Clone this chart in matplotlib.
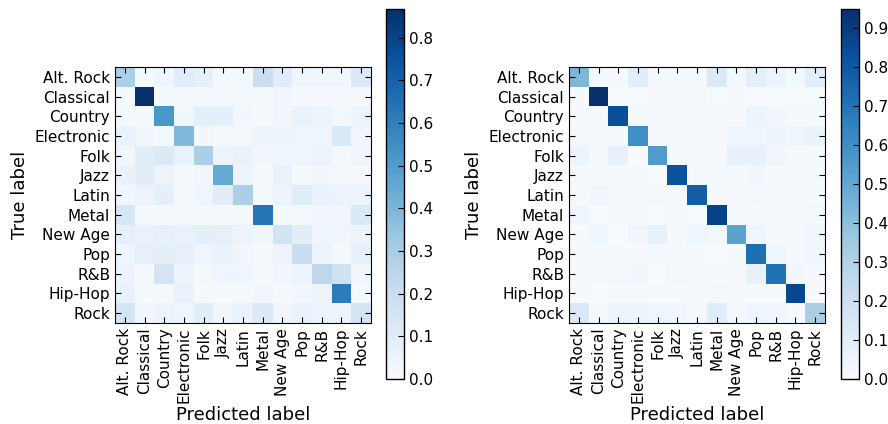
import matplotlib
matplotlib.use("Agg")
import matplotlib.pyplot as plt
import numpy as np

genres = ["Alt. Rock", "Classical", "Country", "Electronic", "Folk", "Jazz",
          "Latin", "Metal", "New Age", "Pop", "R&B", "Hip-Hop", "Rock"]

# left confusion matrix (rows: true label, cols: predicted label)
cm_left = [
    [0.29, 0.02, 0.04, 0.10, 0.07, 0.02, 0.02, 0.19, 0.10, 0.04, 0.03, 0.03, 0.11],
    [0.01, 0.867, 0.01, 0.01, 0.015, 0.015, 0.015, 0.015, 0.03, 0.01, 0.01, 0.01, 0.01],
    [0.02, 0.01, 0.52, 0.03, 0.08, 0.08, 0.03, 0.01, 0.03, 0.06, 0.05, 0.02, 0.05],
    [0.06, 0.03, 0.02, 0.39, 0.03, 0.02, 0.02, 0.05, 0.05, 0.04, 0.04, 0.12, 0.03],
    [0.03, 0.09, 0.11, 0.06, 0.29, 0.05, 0.06, 0.03, 0.04, 0.04, 0.05, 0.02, 0.03],
    [0.06, 0.09, 0.05, 0.02, 0.03, 0.45, 0.05, 0.02, 0.06, 0.02, 0.03, 0.02, 0.01],
    [0.03, 0.05, 0.08, 0.02, 0.04, 0.09, 0.29, 0.02, 0.05, 0.10, 0.06, 0.05, 0.05],
    [0.14, 0.02, 0.02, 0.02, 0.02, 0.015, 0.015, 0.63, 0.02, 0.02, 0.03, 0.03, 0.12],
    [0.07, 0.06, 0.07, 0.06, 0.08, 0.07, 0.05, 0.03, 0.16, 0.09, 0.04, 0.03, 0.05],
    [0.04, 0.07, 0.08, 0.07, 0.04, 0.06, 0.03, 0.02, 0.05, 0.19, 0.05, 0.02, 0.07],
    [0.05, 0.01, 0.15, 0.05, 0.02, 0.04, 0.04, 0.02, 0.03, 0.05, 0.24, 0.17, 0.03],
    [0.06, 0.01, 0.02, 0.06, 0.01, 0.01, 0.02, 0.03, 0.02, 0.03, 0.05, 0.61, 0.02],
    [0.15, 0.03, 0.05, 0.04, 0.09, 0.03, 0.06, 0.11, 0.03, 0.06, 0.05, 0.05, 0.15],
]

# right confusion matrix
cm_right = [
    [0.43, 0.02, 0.01, 0.10, 0.01, 0.02, 0.01, 0.12, 0.02, 0.09, 0.05, 0.02, 0.10],
    [0.005, 0.948, 0.005, 0.005, 0.01, 0.01, 0.015, 0.005, 0.01, 0.005, 0.005, 0.005, 0.005],
    [0.01, 0.01, 0.83, 0.01, 0.01, 0.01, 0.01, 0.01, 0.01, 0.05, 0.03, 0.01, 0.01],
    [0.02, 0.01, 0.01, 0.60, 0.01, 0.01, 0.01, 0.01, 0.04, 0.04, 0.05, 0.04, 0.06],
    [0.05, 0.01, 0.07, 0.005, 0.55, 0.01, 0.02, 0.01, 0.07, 0.07, 0.03, 0.01, 0.01],
    [0.01, 0.01, 0.01, 0.01, 0.005, 0.82, 0.02, 0.01, 0.01, 0.03, 0.01, 0.01, 0.01],
    [0.02, 0.03, 0.01, 0.01, 0.01, 0.01, 0.78, 0.01, 0.01, 0.02, 0.01, 0.01, 0.01],
    [0.04, 0.005, 0.01, 0.01, 0.005, 0.01, 0.005, 0.88, 0.01, 0.01, 0.01, 0.01, 0.02],
    [0.01, 0.04, 0.005, 0.03, 0.07, 0.01, 0.04, 0.02, 0.52, 0.04, 0.01, 0.01, 0.03],
    [0.01, 0.01, 0.01, 0.01, 0.02, 0.01, 0.01, 0.005, 0.01, 0.72, 0.04, 0.01, 0.03],
    [0.01, 0.01, 0.02, 0.03, 0.005, 0.02, 0.01, 0.01, 0.01, 0.07, 0.71, 0.03, 0.01],
    [0.01, 0.005, 0.01, 0.01, 0.01, 0.01, 0.01, 0.02, 0.01, 0.01, 0.01, 0.86, 0.01],
    [0.14, 0.02, 0.05, 0.05, 0.04, 0.03, 0.02, 0.11, 0.02, 0.04, 0.03, 0.01, 0.32],
]

cbar_ticks_left = [0.0, 0.1, 0.2, 0.3, 0.4, 0.5, 0.6, 0.7, 0.8]
cbar_ticks_right = [0.0, 0.1, 0.2, 0.3, 0.4, 0.5, 0.6, 0.7, 0.8, 0.9]

plt.rcParams["xtick.direction"] = "in"
plt.rcParams["ytick.direction"] = "in"
plt.rcParams["xtick.top"] = True
plt.rcParams["ytick.right"] = True
plt.rcParams["xtick.major.size"] = 4
plt.rcParams["ytick.major.size"] = 4

W, H = 888, 424
fig = plt.figure(figsize=(W / 100, H / 100), dpi=100)


def px(x, y_top, w, h):
    # pixel box (left, top, width, height) -> figure fraction
    return [x / W, (H - y_top - h) / H, w / W, h / H]


def plot_cm(cm, ax_box, cax_box, ticks):
    cm = np.array(cm)
    ax = fig.add_axes(px(*ax_box))
    im = ax.imshow(cm, interpolation="nearest", cmap="Blues",
                   vmin=0, vmax=cm.max(), aspect="auto")
    pos = np.arange(len(genres))
    ax.set_xticks(pos)
    ax.set_xticklabels(genres, rotation=90, fontsize=11)
    ax.set_yticks(pos)
    ax.set_yticklabels(genres, fontsize=11)
    ax.set_ylabel("True label", fontsize=13)
    ax.set_xlabel("Predicted label", fontsize=13, labelpad=2)
    cax = fig.add_axes(px(*cax_box))
    cb = fig.colorbar(im, cax=cax, ticks=ticks)
    cb.ax.tick_params(labelsize=11, direction="in", length=4)
    cb.outline.set_linewidth(1)
    return ax


plot_cm(cm_left, (115, 67, 256, 256), (386, 9, 18, 370), cbar_ticks_left)
plot_cm(cm_right, (569, 67, 256, 256), (841, 9, 18, 370), cbar_ticks_right)

fig.savefig("out.png", dpi=100)
